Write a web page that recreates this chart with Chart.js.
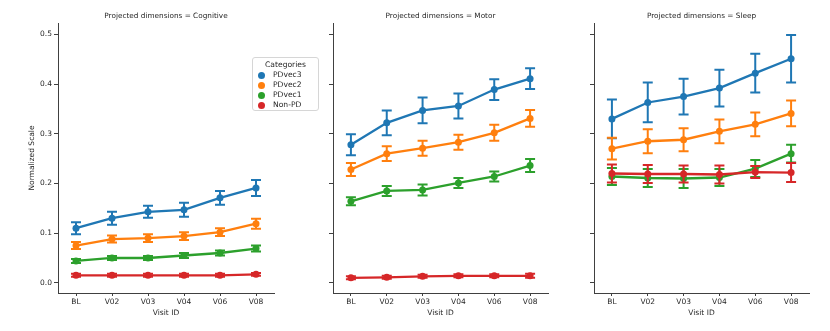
<!DOCTYPE html>
<html>
<head>
<meta charset="utf-8">
<script src="https://cdn.jsdelivr.net/npm/chart.js@4.4.0/dist/chart.umd.min.js"></script>
<style>
  body { margin: 0; background: #fff; width: 830px; height: 331px; position: relative; overflow: hidden; font-family: "DejaVu Sans", sans-serif; }
  canvas { position: absolute; top: 0; }
  .legend { position: absolute; left: 252px; top: 57px; width: 67px; height: 54px; box-sizing: border-box;
            border: 1px solid #d6d6d6; border-radius: 3px; background: rgba(255,255,255,0.8); color: #262626; font-size: 7.6px; }
  .legend .ttl { text-align: center; margin-top: 2px; height: 10px; line-height: 10px; }
  .legend .item { position: relative; height: 10px; line-height: 10px; }
  .legend .dot { position: absolute; left: 5px; top: 2px; width: 7px; height: 7px; border-radius: 50%; }
  .legend .lbl { position: absolute; left: 20px; top: 0; }
</style>
</head>
<body>
<canvas id="c1" width="280" height="331" style="left:0px"></canvas>
<canvas id="c2" width="265" height="331" style="left:290px"></canvas>
<canvas id="c3" width="265" height="331" style="left:555px"></canvas>
<div class="legend" id="legend"></div>

<script>
// x categories and y ticks
const VISITS = ['BL', 'V02', 'V03', 'V04', 'V06', 'V08'];
const Y_TICKS = [0, 0.1, 0.2, 0.3, 0.4, 0.5];
const SERIES = ['PDvec3', 'PDvec2', 'PDvec1', 'Non-PD'];
const COLORS = ['#1f77b4', '#ff7f0e', '#2ca02c', '#d62728'];

// Cognitive — means and half-widths of the error bars
const cogPDvec3 = [0.110, 0.130, 0.143, 0.147, 0.171, 0.191];
const cogPDvec2 = [0.075, 0.088, 0.090, 0.094, 0.102, 0.119];
const cogPDvec1 = [0.044, 0.050, 0.050, 0.055, 0.060, 0.069];
const cogNonPD  = [0.015, 0.015, 0.015, 0.015, 0.015, 0.017];
const cogErrPDvec3 = [0.012, 0.013, 0.012, 0.014, 0.014, 0.016];
const cogErrPDvec2 = [0.007, 0.007, 0.008, 0.008, 0.008, 0.010];
const cogErrPDvec1 = [0.004, 0.004, 0.004, 0.005, 0.005, 0.006];
const cogErrNonPD  = [0.003, 0.003, 0.003, 0.003, 0.003, 0.003];

// Motor
const motPDvec3 = [0.278, 0.322, 0.347, 0.356, 0.389, 0.411];
const motPDvec2 = [0.228, 0.260, 0.271, 0.283, 0.302, 0.331];
const motPDvec1 = [0.164, 0.185, 0.187, 0.201, 0.214, 0.236];
const motNonPD  = [0.010, 0.011, 0.013, 0.014, 0.014, 0.014];
const motErrPDvec3 = [0.021, 0.025, 0.026, 0.025, 0.021, 0.021];
const motErrPDvec2 = [0.013, 0.015, 0.015, 0.015, 0.016, 0.017];
const motErrPDvec1 = [0.008, 0.010, 0.011, 0.010, 0.010, 0.013];
const motErrNonPD  = [0.003, 0.003, 0.003, 0.003, 0.003, 0.004];

// Sleep
const slpPDvec3 = [0.330, 0.363, 0.375, 0.392, 0.422, 0.451];
const slpPDvec2 = [0.270, 0.285, 0.288, 0.305, 0.319, 0.341];
const slpPDvec1 = [0.214, 0.211, 0.210, 0.212, 0.230, 0.260];
const slpNonPD  = [0.220, 0.219, 0.219, 0.218, 0.223, 0.222];
const slpErrPDvec3 = [0.039, 0.040, 0.036, 0.037, 0.039, 0.048];
const slpErrPDvec2 = [0.022, 0.024, 0.023, 0.024, 0.024, 0.026];
const slpErrPDvec1 = [0.017, 0.018, 0.019, 0.017, 0.017, 0.018];
const slpErrNonPD  = [0.018, 0.018, 0.017, 0.018, 0.012, 0.019];

const FONT = 'DejaVu Sans';
const TEXT = '#262626';
const AXIS = '#404040';

// draws each dataset's error bars right after that dataset's line
const errorBars = {
  id: 'errorBars',
  afterDatasetDraw(chart, args) {
    const ds = chart.data.datasets[args.index];
    if (!ds.errors) return;
    const x = chart.scales.x, y = chart.scales.y, ctx = chart.ctx;
    ctx.save();
    ctx.strokeStyle = ds.borderColor;
    ctx.lineWidth = 2;
    ds.data.forEach((v, i) => {
      const px = x.getPixelForValue(i);
      const lo = y.getPixelForValue(v - ds.errors[i]);
      const hi = y.getPixelForValue(v + ds.errors[i]);
      ctx.beginPath();
      ctx.moveTo(px, lo); ctx.lineTo(px, hi);
      ctx.moveTo(px - 5, lo); ctx.lineTo(px + 5, lo);
      ctx.moveTo(px - 5, hi); ctx.lineTo(px + 5, hi);
      ctx.stroke();
    });
    ctx.restore();
  }
};

// facet title centred over the plot area (seaborn style), not the whole canvas
const panelTitle = {
  id: 'panelTitle',
  afterDraw(chart, args, opts) {
    const { ctx, chartArea } = chart;
    ctx.save();
    ctx.fillStyle = TEXT;
    ctx.font = `7.3px "${FONT}"`;
    ctx.textAlign = 'center';
    ctx.textBaseline = 'middle';
    ctx.fillText(opts.text, (chartArea.left + chartArea.right) / 2, 16);
    ctx.restore();
  }
};

function makeDatasets(means, errs) {
  return SERIES.map((name, k) => ({
    label: name,
    data: means[k],
    errors: errs[k],
    borderColor: COLORS[k],
    backgroundColor: COLORS[k],
    borderWidth: 2.3,
    pointRadius: 3.5,
    pointBorderWidth: 0,
    tension: 0,
    order: 3 - k,
  }));
}

function initPanel(canvasId, title, means, errs, opts) {
  const ctx = document.getElementById(canvasId);
  return new Chart(ctx, {
    type: 'line',
    data: { labels: VISITS, datasets: makeDatasets(means, errs) },
    plugins: [errorBars, panelTitle],
    options: {
      responsive: false,
      animation: false,
      layout: { padding: { left: 0, right: opts.padRight, top: 23, bottom: 10 } },
      plugins: {
        legend: { display: false },
        tooltip: { enabled: false },
        title: { display: false },
        panelTitle: { text: title }
      },
      scales: {
        x: {
          type: 'category',
          offset: true,
          grid: { display: true, drawOnChartArea: false, drawTicks: true, tickLength: 3, color: AXIS, offset: false },
          border: { display: true, color: AXIS, width: 1 },
          ticks: { color: TEXT, font: { family: FONT, size: 7.5 }, padding: 2, maxRotation: 0, autoSkip: false },
          title: { display: true, text: 'Visit ID', color: TEXT, font: { family: FONT, size: 7.5 }, padding: { top: 0, bottom: 3 } },
          afterFit: s => { s.height = 28; }
        },
        y: {
          min: -0.0205,
          max: 0.523,
          afterBuildTicks: s => { s.ticks = Y_TICKS.map(v => ({ value: v })); },
          grid: { display: true, drawOnChartArea: false, drawTicks: true, tickLength: 4, color: AXIS },
          border: { display: true, color: AXIS, width: 1 },
          ticks: {
            color: TEXT, font: { family: FONT, size: 7.5 }, padding: 2,
            callback: v => opts.showLabels ? v.toFixed(1) : ''
          },
          title: {
            display: opts.showLabels, text: 'Normalized Scale', color: TEXT,
            font: { family: FONT, size: 7.5 }, padding: { top: 28, bottom: 0 }
          },
          afterFit: s => { s.width = opts.yWidth; }
        }
      }
    }
  });
}

initPanel('c1', 'Projected dimensions = Cognitive',
  [cogPDvec3, cogPDvec2, cogPDvec1, cogNonPD],
  [cogErrPDvec3, cogErrPDvec2, cogErrPDvec1, cogErrNonPD],
  { yWidth: 58, padRight: 6, showLabels: true });

initPanel('c2', 'Projected dimensions = Motor',
  [motPDvec3, motPDvec2, motPDvec1, motNonPD],
  [motErrPDvec3, motErrPDvec2, motErrPDvec1, motErrNonPD],
  { yWidth: 43, padRight: 7, showLabels: false });

initPanel('c3', 'Projected dimensions = Sleep',
  [slpPDvec3, slpPDvec2, slpPDvec1, slpNonPD],
  [slpErrPDvec3, slpErrPDvec2, slpErrPDvec1, slpErrNonPD],
  { yWidth: 39, padRight: 11, showLabels: false });

// floating legend box
const legend = document.getElementById('legend');
legend.innerHTML = '<div class="ttl">Categories</div>' +
  SERIES.map((s, k) => `<div class="item"><span class="dot" style="background:${COLORS[k]}"></span><span class="lbl">${s}</span></div>`).join('');
</script>
</body>
</html>
